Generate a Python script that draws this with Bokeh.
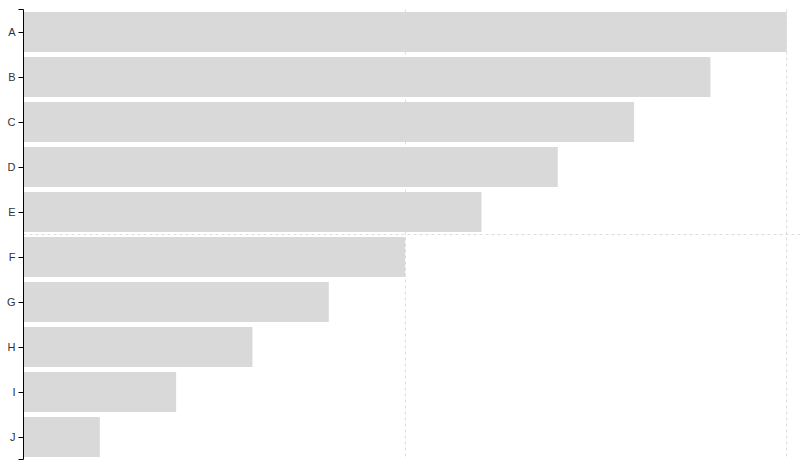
from bokeh.plotting import figure
from bokeh.models import Range1d, FixedTicker, LinearAxis, ColumnDataSource
from bokeh.embed import file_html
from bokeh.resources import INLINE

categories = ["A", "B", "C", "D", "E", "F", "G", "H", "I", "J"]
values = [10, 9, 8, 7, 6, 5, 4, 3, 2, 1]

pos = [i + 0.5 for i in range(len(categories))]
src = ColumnDataSource(dict(y=pos, v=values, cat=categories))

p = figure(width=800, height=471, output_backend="svg", toolbar_location=None,
           x_range=Range1d(0, 10.18), y_range=Range1d(len(categories), 0),
           min_border_left=23, min_border_top=9, min_border_bottom=12, min_border_right=0,
           x_axis_location=None, y_axis_location=None)
p.outline_line_color = None
p.background_fill_color = "white"
p.border_fill_color = "white"

p.hbar(y="y", left=0, right="v", height=0.89, source=src,
       fill_color="#d9d9d9", line_color=None)

ax = LinearAxis()
ticks = [0] + pos + [len(categories)]
ax.ticker = FixedTicker(ticks=ticks, minor_ticks=[])
overrides = {0: "", len(categories): ""}
for y, c in zip(pos, categories):
    overrides[y] = c
ax.major_label_overrides = overrides
ax.major_tick_out = 5
ax.major_tick_in = 0
ax.minor_tick_out = 0
ax.major_label_standoff = 3
ax.major_label_text_font = "Liberation Sans"
ax.major_label_text_font_size = "11px"
ax.major_label_text_color = "#333333"
ax.axis_line_color = "black"
ax.major_tick_line_color = "black"
p.add_layout(ax, "left")

p.xgrid.ticker = FixedTicker(ticks=[0, 5, 10])
p.ygrid.ticker = FixedTicker(ticks=[0, 5, 10])
for g in (p.xgrid, p.ygrid):
    g.grid_line_color = "#dcdcdc"
    g.grid_line_dash = "3 3"
    g.grid_line_width = 1

open("out.html", "w").write(file_html(p, INLINE))
